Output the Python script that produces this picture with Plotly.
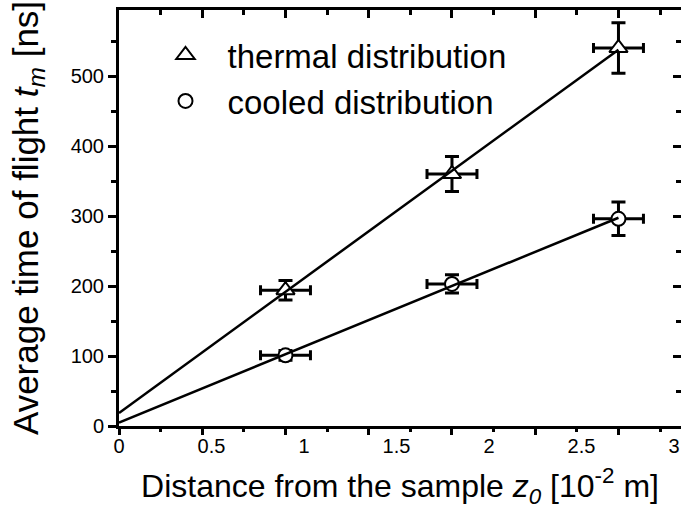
import numpy as np
import plotly.graph_objects as go

# ---- data ----
distance = [0.9, 1.8, 2.7]            # z0 [10^-2 m]
dist_err = [0.135, 0.135, 0.135]
thermal = [194, 360, 540]             # t_m [ns]
thermal_err = [14, 25, 36]
cooled = [101, 203, 296]
cooled_err = [7, 13, 24]

x_labels = [0, 0.5, 1, 1.5, 2, 2.5, 3]
x_label_text = ["0", "0.5", "1", "1.5", "2", "2.5", "3"]
x_tick_step = 0.45          # tick marks of the original axis
y_tick_step = 100

XR = [0, 3.038]
YR = [0, 594.3]
FONT = "Liberation Sans, Arial, sans-serif"

fig = go.Figure()

fig.add_trace(go.Scatter(
    x=distance, y=thermal, mode="markers", name="thermal distribution",
    marker=dict(symbol="triangle-up", size=16, color="white",
                line=dict(color="black", width=2)),
    error_x=dict(type="data", array=dist_err, color="black", thickness=3, width=5),
    error_y=dict(type="data", array=thermal_err, color="black", thickness=3, width=7),
    legendgroup="a",
))
fig.add_trace(go.Scatter(
    x=distance, y=cooled, mode="markers", name="cooled distribution",
    marker=dict(symbol="circle", size=14, color="white",
                line=dict(color="black", width=2)),
    error_x=dict(type="data", array=dist_err, color="black", thickness=3, width=5),
    error_y=dict(type="data", array=cooled_err, color="black", thickness=3, width=7),
    legendgroup="b",
))

# linear fits
xfit = np.array([0, max(distance)])
for ys in (thermal, cooled):
    k, b = np.polyfit(distance, ys, 1)
    fig.add_trace(go.Scatter(x=xfit, y=k * xfit + b, mode="lines",
                             line=dict(color="black", width=2.5),
                             showlegend=False, hoverinfo="skip"))

tickfont = dict(family=FONT, size=20, color="black")

fig.update_layout(
    width=681, height=519,
    margin=dict(l=119, r=0, t=10, b=93),
    plot_bgcolor="white", paper_bgcolor="white",
    font=dict(family=FONT, color="black"),
    showlegend=True,
    legend=dict(x=0.0436, y=0.959, xanchor="left", yanchor="top",
                font=dict(family=FONT, size=33, color="black"),
                bgcolor="rgba(0,0,0,0)", tracegroupgap=0, itemwidth=74),
    xaxis=dict(range=XR, tickmode="array", tickvals=x_labels, ticktext=x_label_text,
               ticks="", showgrid=False, zeroline=False,
               showline=True, linecolor="black", linewidth=3,
               tickfont=tickfont,
               title=dict(text="Distance from the sample <i>z</i><sub><i>0</i></sub> [10<sup>-2</sup> m]",
                          font=dict(family=FONT, size=32, color="black"), standoff=19)),
    xaxis2=dict(range=XR, overlaying="x", anchor="y", side="bottom",
                tick0=0, dtick=x_tick_step, ticks="outside", ticklen=8, tickwidth=2.5,
                tickcolor="black", showticklabels=False, showgrid=False, zeroline=False,
                showline=False,
                minor=dict(tick0=0, dtick=x_tick_step / 2, ticks="outside", ticklen=5,
                           tickwidth=2.5, tickcolor="black", showgrid=False)),
    xaxis3=dict(range=XR, overlaying="x", anchor="y", side="top",
                tick0=0, dtick=x_tick_step, ticks="inside", ticklen=8, tickwidth=2.5,
                tickcolor="black", showticklabels=False, showgrid=False, zeroline=False,
                showline=True, linecolor="black", linewidth=3,
                minor=dict(tick0=0, dtick=x_tick_step / 2, ticks="inside", ticklen=5,
                           tickwidth=2.5, tickcolor="black", showgrid=False)),
    yaxis=dict(range=YR, tick0=0, dtick=y_tick_step, ticks="outside", ticklen=8,
               tickwidth=2.5, tickcolor="black", showgrid=False, zeroline=False,
               showline=True, linecolor="black", linewidth=3, tickfont=tickfont,
               minor=dict(dtick=y_tick_step / 2, ticks="outside", ticklen=5,
                          tickwidth=2.5, tickcolor="black", showgrid=False),
               title=dict(text="Average time of flight <i>t</i><sub><i>m</i></sub> [ns]",
                          font=dict(family=FONT, size=35, color="black"), standoff=22)),
    yaxis2=dict(range=YR, overlaying="y", anchor="x", side="right",
                tick0=0, dtick=y_tick_step, ticks="inside", ticklen=8, tickwidth=2.5,
                tickcolor="black", showticklabels=False, showgrid=False, zeroline=False,
                showline=True, linecolor="black", linewidth=3,
                minor=dict(dtick=y_tick_step / 2, ticks="inside", ticklen=5,
                           tickwidth=2.5, tickcolor="black", showgrid=False)),
)

# invisible helper traces so the overlay axes are drawn
fig.add_trace(go.Scatter(x=[None], y=[None], xaxis="x2", yaxis="y", showlegend=False, hoverinfo="skip"))
fig.add_trace(go.Scatter(x=[None], y=[None], xaxis="x3", yaxis="y2", showlegend=False, hoverinfo="skip"))

fig.write_html("out.html")
